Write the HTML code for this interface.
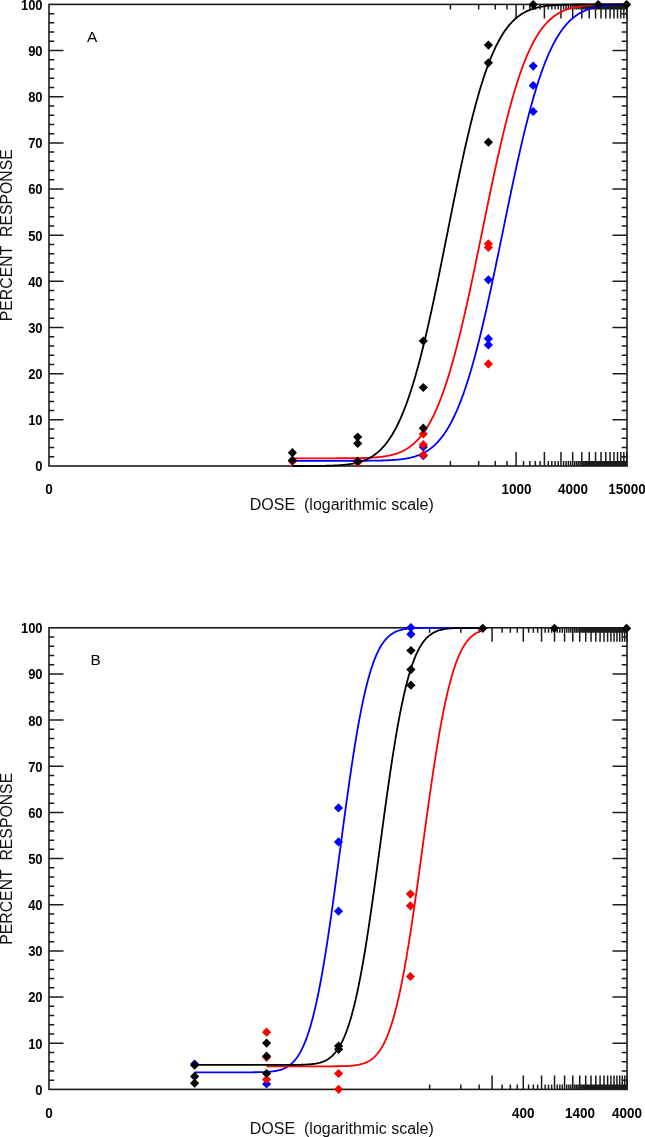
<!DOCTYPE html>
<html><head><meta charset="utf-8"><style>
html,body{margin:0;padding:0;background:#fff;}
body{width:645px;height:1137px;overflow:hidden;}
svg{display:block;}
text{font-family:'Liberation Sans',sans-serif;fill:#000;filter:grayscale(1);}
.tl{font-size:13.5px;font-weight:bold;}
.al{font-size:16px;fill:#111;}
.lt{font-size:15.4px;}
.pr{font-size:15.8px;}
.yl{font-size:13px;}
</style></head><body>
<svg width="645" height="1137" viewBox="0 0 645 1137">
<rect x="49" y="4.4" width="578" height="461.6" fill="none" stroke="#1c1c1c" stroke-width="1.6"/>
<path d="M49,456.77h5.3M627,456.77h-5.3M49,447.54h5.3M627,447.54h-5.3M49,438.30h5.3M627,438.30h-5.3M49,429.07h5.3M627,429.07h-5.3M49,419.84h14.5M627,419.84h-14.5M49,410.61h5.3M627,410.61h-5.3M49,401.38h5.3M627,401.38h-5.3M49,392.14h5.3M627,392.14h-5.3M49,382.91h5.3M627,382.91h-5.3M49,373.68h14.5M627,373.68h-14.5M49,364.45h5.3M627,364.45h-5.3M49,355.22h5.3M627,355.22h-5.3M49,345.98h5.3M627,345.98h-5.3M49,336.75h5.3M627,336.75h-5.3M49,327.52h14.5M627,327.52h-14.5M49,318.29h5.3M627,318.29h-5.3M49,309.06h5.3M627,309.06h-5.3M49,299.82h5.3M627,299.82h-5.3M49,290.59h5.3M627,290.59h-5.3M49,281.36h14.5M627,281.36h-14.5M49,272.13h5.3M627,272.13h-5.3M49,262.90h5.3M627,262.90h-5.3M49,253.66h5.3M627,253.66h-5.3M49,244.43h5.3M627,244.43h-5.3M49,235.20h14.5M627,235.20h-14.5M49,225.97h5.3M627,225.97h-5.3M49,216.74h5.3M627,216.74h-5.3M49,207.50h5.3M627,207.50h-5.3M49,198.27h5.3M627,198.27h-5.3M49,189.04h14.5M627,189.04h-14.5M49,179.81h5.3M627,179.81h-5.3M49,170.58h5.3M627,170.58h-5.3M49,161.34h5.3M627,161.34h-5.3M49,152.11h5.3M627,152.11h-5.3M49,142.88h14.5M627,142.88h-14.5M49,133.65h5.3M627,133.65h-5.3M49,124.42h5.3M627,124.42h-5.3M49,115.18h5.3M627,115.18h-5.3M49,105.95h5.3M627,105.95h-5.3M49,96.72h14.5M627,96.72h-14.5M49,87.49h5.3M627,87.49h-5.3M49,78.26h5.3M627,78.26h-5.3M49,69.02h5.3M627,69.02h-5.3M49,59.79h5.3M627,59.79h-5.3M49,50.56h14.5M627,50.56h-14.5M49,41.33h5.3M627,41.33h-5.3M49,32.10h5.3M627,32.10h-5.3M49,22.86h5.3M627,22.86h-5.3M49,13.63h5.3M627,13.63h-5.3M450.40,466v-5M450.40,4.4v5M478.69,466v-5M478.69,4.4v5M495.25,466v-5M495.25,4.4v5M506.99,466v-5M506.99,4.4v5M516.10,466v-14M516.10,4.4v14M523.54,466v-5M523.54,4.4v5M529.84,466v-5M529.84,4.4v5M535.29,466v-5M535.29,4.4v5M540.10,466v-5M540.10,4.4v5M544.40,466v-14M544.40,4.4v14M548.29,466v-5M548.29,4.4v5M551.84,466v-5M551.84,4.4v5M555.11,466v-5M555.11,4.4v5M558.13,466v-5M558.13,4.4v5M560.95,466v-14M560.95,4.4v14M563.58,466v-5M563.58,4.4v5M566.06,466v-5M566.06,4.4v5M568.39,466v-5M568.39,4.4v5M570.60,466v-5M570.60,4.4v5M572.69,466v-14M572.69,4.4v14M574.69,466v-5M574.69,4.4v5M576.58,466v-5M576.58,4.4v5M578.40,466v-5M578.40,4.4v5M580.14,466v-5M580.14,4.4v5M581.80,466v-14M581.80,4.4v14M583.40,466v-5M583.40,4.4v5M584.95,466v-5M584.95,4.4v5M586.43,466v-5M586.43,4.4v5M587.86,466v-5M587.86,4.4v5M589.25,466v-14M589.25,4.4v14M590.58,466v-5M590.58,4.4v5M591.88,466v-5M591.88,4.4v5M593.14,466v-5M593.14,4.4v5M594.36,466v-5M594.36,4.4v5M595.54,466v-14M595.54,4.4v14M596.69,466v-5M596.69,4.4v5M597.81,466v-5M597.81,4.4v5M598.90,466v-5M598.90,4.4v5M599.96,466v-5M599.96,4.4v5M600.99,466v-14M600.99,4.4v14M602.00,466v-5M602.00,4.4v5M602.98,466v-5M602.98,4.4v5M603.94,466v-5M603.94,4.4v5M604.88,466v-5M604.88,4.4v5M605.80,466v-14M605.80,4.4v14M606.70,466v-5M606.70,4.4v5M607.57,466v-5M607.57,4.4v5M608.43,466v-5M608.43,4.4v5M609.28,466v-5M609.28,4.4v5M610.10,466v-14M610.10,4.4v14M610.91,466v-5M610.91,4.4v5M611.70,466v-5M611.70,4.4v5M612.48,466v-5M612.48,4.4v5M613.24,466v-5M613.24,4.4v5M613.99,466v-14M613.99,4.4v14M614.73,466v-5M614.73,4.4v5M615.45,466v-5M615.45,4.4v5M616.16,466v-5M616.16,4.4v5M616.86,466v-5M616.86,4.4v5M617.54,466v-14M617.54,4.4v14M618.22,466v-5M618.22,4.4v5M618.88,466v-5M618.88,4.4v5M619.53,466v-5M619.53,4.4v5M620.18,466v-5M620.18,4.4v5M620.81,466v-14M620.81,4.4v14M621.43,466v-5M621.43,4.4v5M622.05,466v-5M622.05,4.4v5M622.65,466v-5M622.65,4.4v5M623.25,466v-5M623.25,4.4v5M623.84,466v-14M623.84,4.4v14M624.42,466v-5M624.42,4.4v5M624.99,466v-5M624.99,4.4v5M625.55,466v-5M625.55,4.4v5M626.10,466v-5M626.10,4.4v5M626.65,466v-14M626.65,4.4v14" stroke="#1c1c1c" stroke-width="1.5" fill="none"/>
<polyline points="292.40,458.29 293.24,458.29 294.08,458.29 294.92,458.29 295.75,458.29 296.59,458.29 297.43,458.29 298.27,458.29 299.11,458.29 299.95,458.29 300.79,458.29 301.62,458.29 302.46,458.29 303.30,458.29 304.14,458.29 304.98,458.29 305.82,458.29 306.66,458.29 307.49,458.29 308.33,458.29 309.17,458.29 310.01,458.29 310.85,458.29 311.69,458.29 312.53,458.29 313.36,458.29 314.20,458.29 315.04,458.29 315.88,458.29 316.72,458.29 317.56,458.29 318.40,458.29 319.24,458.29 320.07,458.29 320.91,458.29 321.75,458.29 322.59,458.29 323.43,458.29 324.27,458.29 325.11,458.29 325.94,458.29 326.78,458.29 327.62,458.28 328.46,458.28 329.30,458.28 330.14,458.28 330.98,458.28 331.81,458.28 332.65,458.28 333.49,458.28 334.33,458.28 335.17,458.28 336.01,458.27 336.85,458.27 337.68,458.27 338.52,458.27 339.36,458.27 340.20,458.26 341.04,458.26 341.88,458.26 342.72,458.25 343.55,458.25 344.39,458.25 345.23,458.24 346.07,458.24 346.91,458.23 347.75,458.23 348.59,458.22 349.42,458.22 350.26,458.21 351.10,458.20 351.94,458.19 352.78,458.18 353.62,458.18 354.46,458.17 355.29,458.15 356.13,458.14 356.97,458.13 357.81,458.12 358.65,458.10 359.49,458.08 360.33,458.07 361.16,458.05 362.00,458.03 362.84,458.01 363.68,457.98 364.52,457.96 365.36,457.93 366.20,457.90 367.04,457.87 367.87,457.84 368.71,457.80 369.55,457.76 370.39,457.72 371.23,457.68 372.07,457.63 372.91,457.58 373.74,457.53 374.58,457.47 375.42,457.41 376.26,457.34 377.10,457.27 377.94,457.19 378.78,457.11 379.61,457.03 380.45,456.94 381.29,456.84 382.13,456.74 382.97,456.63 383.81,456.51 384.65,456.39 385.48,456.26 386.32,456.12 387.16,455.97 388.00,455.82 388.84,455.65 389.68,455.48 390.52,455.29 391.35,455.10 392.19,454.89 393.03,454.67 393.87,454.44 394.71,454.20 395.55,453.94 396.39,453.67 397.22,453.38 398.06,453.08 398.90,452.76 399.74,452.43 400.58,452.08 401.42,451.71 402.26,451.32 403.09,450.91 403.93,450.48 404.77,450.03 405.61,449.56 406.45,449.07 407.29,448.55 408.13,448.01 408.96,447.45 409.80,446.86 410.64,446.24 411.48,445.59 412.32,444.92 413.16,444.21 414.00,443.48 414.84,442.71 415.67,441.91 416.51,441.08 417.35,440.21 418.19,439.31 419.03,438.38 419.87,437.40 420.71,436.39 421.54,435.34 422.38,434.25 423.22,433.12 424.06,431.94 424.90,430.73 425.74,429.47 426.58,428.17 427.41,426.82 428.25,425.42 429.09,423.98 429.93,422.49 430.77,420.96 431.61,419.37 432.45,417.73 433.28,416.04 434.12,414.31 434.96,412.52 435.80,410.67 436.64,408.78 437.48,406.83 438.32,404.82 439.15,402.76 439.99,400.65 440.83,398.48 441.67,396.26 442.51,393.98 443.35,391.64 444.19,389.25 445.02,386.80 445.86,384.29 446.70,381.73 447.54,379.11 448.38,376.44 449.22,373.71 450.06,370.92 450.89,368.08 451.73,365.18 452.57,362.23 453.41,359.23 454.25,356.17 455.09,353.06 455.93,349.89 456.76,346.68 457.60,343.41 458.44,340.10 459.28,336.73 460.12,333.32 460.96,329.86 461.80,326.36 462.64,322.81 463.47,319.22 464.31,315.59 465.15,311.92 465.99,308.21 466.83,304.47 467.67,300.68 468.51,296.87 469.34,293.02 470.18,289.14 471.02,285.23 471.86,281.30 472.70,277.34 473.54,273.36 474.38,269.36 475.21,265.33 476.05,261.29 476.89,257.24 477.73,253.17 478.57,249.09 479.41,245.00 480.25,240.91 481.08,236.81 481.92,232.70 482.76,228.60 483.60,224.50 484.44,220.40 485.28,216.30 486.12,212.22 486.95,208.14 487.79,204.08 488.63,200.03 489.47,195.99 490.31,191.98 491.15,187.98 491.99,184.01 492.82,180.06 493.66,176.13 494.50,172.23 495.34,168.36 496.18,164.53 497.02,160.72 497.86,156.95 498.69,153.22 499.53,149.52 500.37,145.86 501.21,142.25 502.05,138.67 502.89,135.14 503.73,131.65 504.56,128.21 505.40,124.81 506.24,121.47 507.08,118.17 507.92,114.92 508.76,111.72 509.60,108.57 510.44,105.48 511.27,102.44 512.11,99.45 512.95,96.52 513.79,93.64 514.63,90.82 515.47,88.05 516.31,85.34 517.14,82.69 517.98,80.09 518.82,77.54 519.66,75.06 520.50,72.63 521.34,70.25 522.18,67.93 523.01,65.67 523.85,63.47 524.69,61.32 525.53,59.22 526.37,57.18 527.21,55.20 528.05,53.27 528.88,51.39 529.72,49.56 530.56,47.79 531.40,46.07 532.24,44.40 533.08,42.78 533.92,41.21 534.75,39.69 535.59,38.22 536.43,36.79 537.27,35.41 538.11,34.08 538.95,32.79 539.79,31.55 540.62,30.35 541.46,29.19 542.30,28.07 543.14,26.99 543.98,25.95 544.82,24.96 545.66,23.99 546.49,23.07 547.33,22.18 548.17,21.33 549.01,20.51 549.85,19.72 550.69,18.96 551.53,18.24 552.36,17.54 553.20,16.88 554.04,16.24 554.88,15.63 555.72,15.05 556.56,14.49 557.40,13.96 558.24,13.45 559.07,12.96 559.91,12.50 560.75,12.06 561.59,11.64 562.43,11.24 563.27,10.86 564.11,10.49 564.94,10.15 565.78,9.82 566.62,9.51 567.46,9.21 568.30,8.93 569.14,8.66 569.98,8.41 570.81,8.17 571.65,7.95 572.49,7.73 573.33,7.53 574.17,7.33 575.01,7.15 575.85,6.98 576.68,6.82 577.52,6.67 578.36,6.52 579.20,6.39 580.04,6.26 580.88,6.14 581.72,6.02 582.55,5.92 583.39,5.82 584.23,5.72 585.07,5.63 585.91,5.55 586.75,5.47 587.59,5.40 588.42,5.33 589.26,5.26 590.10,5.20 590.94,5.15 591.78,5.09 592.62,5.05 593.46,5.00 594.29,4.96 595.13,4.92 595.97,4.88 596.81,4.84 597.65,4.81 598.49,4.78 599.33,4.75 600.16,4.72 601.00,4.70 601.84,4.68 602.68,4.66 603.52,4.64 604.36,4.62 605.20,4.60 606.04,4.59 606.87,4.57 607.71,4.56 608.55,4.54 609.39,4.53 610.23,4.52 611.07,4.51 611.91,4.50 612.74,4.49 613.58,4.49 614.42,4.48 615.26,4.47 616.10,4.47 616.94,4.46 617.78,4.46 618.61,4.45 619.45,4.45 620.29,4.44 621.13,4.44 621.97,4.44 622.81,4.43 623.65,4.43 624.48,4.43 625.32,4.42 626.16,4.42 627.00,4.42" fill="none" stroke="#ff0000" stroke-width="1.8" stroke-linejoin="round"/>
<polyline points="292.40,460.78 293.24,460.78 294.08,460.78 294.92,460.78 295.75,460.78 296.59,460.78 297.43,460.78 298.27,460.78 299.11,460.78 299.95,460.78 300.79,460.78 301.62,460.78 302.46,460.78 303.30,460.78 304.14,460.78 304.98,460.78 305.82,460.78 306.66,460.78 307.49,460.78 308.33,460.78 309.17,460.78 310.01,460.78 310.85,460.78 311.69,460.78 312.53,460.78 313.36,460.78 314.20,460.78 315.04,460.78 315.88,460.78 316.72,460.78 317.56,460.78 318.40,460.78 319.24,460.78 320.07,460.78 320.91,460.78 321.75,460.78 322.59,460.78 323.43,460.78 324.27,460.78 325.11,460.78 325.94,460.78 326.78,460.78 327.62,460.78 328.46,460.78 329.30,460.78 330.14,460.78 330.98,460.78 331.81,460.78 332.65,460.78 333.49,460.78 334.33,460.78 335.17,460.78 336.01,460.78 336.85,460.78 337.68,460.78 338.52,460.78 339.36,460.78 340.20,460.78 341.04,460.78 341.88,460.78 342.72,460.78 343.55,460.78 344.39,460.78 345.23,460.78 346.07,460.78 346.91,460.78 347.75,460.78 348.59,460.78 349.42,460.77 350.26,460.77 351.10,460.77 351.94,460.77 352.78,460.77 353.62,460.77 354.46,460.77 355.29,460.77 356.13,460.76 356.97,460.76 357.81,460.76 358.65,460.76 359.49,460.76 360.33,460.75 361.16,460.75 362.00,460.75 362.84,460.74 363.68,460.74 364.52,460.73 365.36,460.73 366.20,460.73 367.04,460.72 367.87,460.71 368.71,460.71 369.55,460.70 370.39,460.69 371.23,460.69 372.07,460.68 372.91,460.67 373.74,460.66 374.58,460.65 375.42,460.63 376.26,460.62 377.10,460.61 377.94,460.59 378.78,460.58 379.61,460.56 380.45,460.54 381.29,460.52 382.13,460.50 382.97,460.48 383.81,460.45 384.65,460.42 385.48,460.40 386.32,460.36 387.16,460.33 388.00,460.30 388.84,460.26 389.68,460.22 390.52,460.17 391.35,460.13 392.19,460.08 393.03,460.02 393.87,459.97 394.71,459.91 395.55,459.84 396.39,459.77 397.22,459.70 398.06,459.62 398.90,459.54 399.74,459.45 400.58,459.35 401.42,459.25 402.26,459.15 403.09,459.03 403.93,458.91 404.77,458.78 405.61,458.65 406.45,458.50 407.29,458.35 408.13,458.19 408.96,458.02 409.80,457.84 410.64,457.65 411.48,457.44 412.32,457.23 413.16,457.00 414.00,456.77 414.84,456.52 415.67,456.25 416.51,455.97 417.35,455.68 418.19,455.37 419.03,455.04 419.87,454.70 420.71,454.34 421.54,453.96 422.38,453.57 423.22,453.15 424.06,452.72 424.90,452.26 425.74,451.78 426.58,451.28 427.41,450.75 428.25,450.20 429.09,449.62 429.93,449.02 430.77,448.39 431.61,447.74 432.45,447.05 433.28,446.34 434.12,445.60 434.96,444.82 435.80,444.01 436.64,443.17 437.48,442.30 438.32,441.38 439.15,440.44 439.99,439.46 440.83,438.43 441.67,437.38 442.51,436.28 443.35,435.14 444.19,433.96 445.02,432.73 445.86,431.47 446.70,430.16 447.54,428.80 448.38,427.40 449.22,425.95 450.06,424.46 450.89,422.92 451.73,421.33 452.57,419.68 453.41,417.99 454.25,416.25 455.09,414.46 455.93,412.61 456.76,410.72 457.60,408.77 458.44,406.76 459.28,404.70 460.12,402.59 460.96,400.42 461.80,398.20 462.64,395.92 463.47,393.59 464.31,391.20 465.15,388.76 465.99,386.26 466.83,383.70 467.67,381.09 468.51,378.42 469.34,375.70 470.18,372.92 471.02,370.09 471.86,367.21 472.70,364.27 473.54,361.27 474.38,358.23 475.21,355.13 476.05,351.98 476.89,348.78 477.73,345.53 478.57,342.23 479.41,338.88 480.25,335.48 481.08,332.04 481.92,328.56 482.76,325.03 483.60,321.45 484.44,317.84 485.28,314.19 486.12,310.50 486.95,306.77 487.79,303.01 488.63,299.21 489.47,295.38 490.31,291.52 491.15,287.63 491.99,283.72 492.82,279.78 493.66,275.81 494.50,271.83 495.34,267.83 496.18,263.80 497.02,259.77 497.86,255.72 498.69,251.65 499.53,247.58 500.37,243.50 501.21,239.42 502.05,235.33 502.89,231.24 503.73,227.15 504.56,223.06 505.40,218.98 506.24,214.90 507.08,210.84 507.92,206.78 508.76,202.74 509.60,198.71 510.44,194.70 511.27,190.71 512.11,186.74 512.95,182.79 513.79,178.87 514.63,174.97 515.47,171.10 516.31,167.26 517.14,163.46 517.98,159.68 518.82,155.94 519.66,152.24 520.50,148.57 521.34,144.95 522.18,141.36 523.01,137.82 523.85,134.31 524.69,130.86 525.53,127.45 526.37,124.08 527.21,120.77 528.05,117.50 528.88,114.28 529.72,111.11 530.56,108.00 531.40,104.93 532.24,101.92 533.08,98.96 533.92,96.06 534.75,93.21 535.59,90.41 536.43,87.67 537.27,84.99 538.11,82.36 538.95,79.78 539.79,77.26 540.62,74.80 541.46,72.39 542.30,70.04 543.14,67.75 543.98,65.50 544.82,63.32 545.66,61.19 546.49,59.11 547.33,57.09 548.17,55.12 549.01,53.20 549.85,51.34 550.69,49.53 551.53,47.77 552.36,46.06 553.20,44.41 554.04,42.80 554.88,41.24 555.72,39.73 556.56,38.27 557.40,36.85 558.24,35.48 559.07,34.15 559.91,32.87 560.75,31.64 561.59,30.44 562.43,29.29 563.27,28.18 564.11,27.10 564.94,26.07 565.78,25.07 566.62,24.11 567.46,23.19 568.30,22.31 569.14,21.45 569.98,20.63 570.81,19.85 571.65,19.09 572.49,18.37 573.33,17.67 574.17,17.01 575.01,16.37 575.85,15.76 576.68,15.18 577.52,14.62 578.36,14.08 579.20,13.57 580.04,13.09 580.88,12.62 581.72,12.18 582.55,11.75 583.39,11.35 584.23,10.97 585.07,10.60 585.91,10.25 586.75,9.92 587.59,9.61 588.42,9.31 589.26,9.03 590.10,8.76 590.94,8.50 591.78,8.26 592.62,8.03 593.46,7.81 594.29,7.61 595.13,7.41 595.97,7.23 596.81,7.05 597.65,6.89 598.49,6.73 599.33,6.58 600.16,6.45 601.00,6.32 601.84,6.19 602.68,6.08 603.52,5.97 604.36,5.86 605.20,5.77 606.04,5.68 606.87,5.59 607.71,5.51 608.55,5.44 609.39,5.37 610.23,5.30 611.07,5.24 611.91,5.18 612.74,5.12 613.58,5.07 614.42,5.03 615.26,4.98 616.10,4.94 616.94,4.90 617.78,4.86 618.61,4.83 619.45,4.80 620.29,4.77 621.13,4.74 621.97,4.72 622.81,4.69 623.65,4.67 624.48,4.65 625.32,4.63 626.16,4.61 627.00,4.60" fill="none" stroke="#0000ff" stroke-width="1.8" stroke-linejoin="round"/>
<polyline points="292.40,465.99 293.24,465.99 294.08,465.99 294.92,465.99 295.75,465.99 296.59,465.99 297.43,465.99 298.27,465.99 299.11,465.99 299.95,465.99 300.79,465.98 301.62,465.98 302.46,465.98 303.30,465.98 304.14,465.98 304.98,465.97 305.82,465.97 306.66,465.97 307.49,465.97 308.33,465.96 309.17,465.96 310.01,465.96 310.85,465.95 311.69,465.95 312.53,465.94 313.36,465.94 314.20,465.93 315.04,465.92 315.88,465.92 316.72,465.91 317.56,465.90 318.40,465.89 319.24,465.88 320.07,465.87 320.91,465.86 321.75,465.85 322.59,465.84 323.43,465.82 324.27,465.81 325.11,465.79 325.94,465.77 326.78,465.75 327.62,465.73 328.46,465.71 329.30,465.69 330.14,465.66 330.98,465.63 331.81,465.61 332.65,465.57 333.49,465.54 334.33,465.50 335.17,465.46 336.01,465.42 336.85,465.38 337.68,465.33 338.52,465.28 339.36,465.22 340.20,465.16 341.04,465.10 341.88,465.03 342.72,464.96 343.55,464.88 344.39,464.80 345.23,464.71 346.07,464.62 346.91,464.52 347.75,464.41 348.59,464.30 349.42,464.18 350.26,464.05 351.10,463.92 351.94,463.77 352.78,463.62 353.62,463.46 354.46,463.29 355.29,463.11 356.13,462.92 356.97,462.71 357.81,462.50 358.65,462.27 359.49,462.03 360.33,461.78 361.16,461.51 362.00,461.23 362.84,460.93 363.68,460.62 364.52,460.29 365.36,459.94 366.20,459.58 367.04,459.19 367.87,458.79 368.71,458.37 369.55,457.92 370.39,457.46 371.23,456.97 372.07,456.45 372.91,455.92 373.74,455.35 374.58,454.76 375.42,454.15 376.26,453.50 377.10,452.83 377.94,452.13 378.78,451.39 379.61,450.63 380.45,449.83 381.29,448.99 382.13,448.13 382.97,447.22 383.81,446.28 384.65,445.31 385.48,444.29 386.32,443.24 387.16,442.14 388.00,441.00 388.84,439.82 389.68,438.60 390.52,437.33 391.35,436.02 392.19,434.66 393.03,433.25 393.87,431.80 394.71,430.29 395.55,428.74 396.39,427.14 397.22,425.48 398.06,423.77 398.90,422.01 399.74,420.20 400.58,418.33 401.42,416.41 402.26,414.43 403.09,412.40 403.93,410.31 404.77,408.17 405.61,405.96 406.45,403.70 407.29,401.39 408.13,399.01 408.96,396.58 409.80,394.08 410.64,391.53 411.48,388.93 412.32,386.26 413.16,383.53 414.00,380.75 414.84,377.91 415.67,375.01 416.51,372.06 417.35,369.05 418.19,365.98 419.03,362.86 419.87,359.68 420.71,356.45 421.54,353.16 422.38,349.83 423.22,346.44 424.06,343.00 424.90,339.51 425.74,335.98 426.58,332.39 427.41,328.76 428.25,325.09 429.09,321.37 429.93,317.62 430.77,313.82 431.61,309.98 432.45,306.11 433.28,302.20 434.12,298.26 434.96,294.29 435.80,290.28 436.64,286.25 437.48,282.20 438.32,278.12 439.15,274.01 439.99,269.89 440.83,265.75 441.67,261.59 442.51,257.42 443.35,253.24 444.19,249.05 445.02,244.85 445.86,240.65 446.70,236.45 447.54,232.24 448.38,228.03 449.22,223.83 450.06,219.64 450.89,215.45 451.73,211.27 452.57,207.11 453.41,202.96 454.25,198.82 455.09,194.71 455.93,190.62 456.76,186.54 457.60,182.50 458.44,178.48 459.28,174.49 460.12,170.53 460.96,166.60 461.80,162.71 462.64,158.85 463.47,155.03 464.31,151.24 465.15,147.50 465.99,143.81 466.83,140.15 467.67,136.54 468.51,132.98 469.34,129.46 470.18,125.99 471.02,122.57 471.86,119.20 472.70,115.89 473.54,112.63 474.38,109.42 475.21,106.26 476.05,103.16 476.89,100.12 477.73,97.13 478.57,94.20 479.41,91.32 480.25,88.51 481.08,85.75 481.92,83.05 482.76,80.40 483.60,77.82 484.44,75.29 485.28,72.82 486.12,70.41 486.95,68.06 487.79,65.77 488.63,63.53 489.47,61.35 490.31,59.23 491.15,57.16 491.99,55.15 492.82,53.20 493.66,51.30 494.50,49.45 495.34,47.66 496.18,45.92 497.02,44.24 497.86,42.60 498.69,41.02 499.53,39.49 500.37,38.01 501.21,36.57 502.05,35.18 502.89,33.84 503.73,32.55 504.56,31.30 505.40,30.09 506.24,28.93 507.08,27.81 507.92,26.73 508.76,25.69 509.60,24.69 510.44,23.73 511.27,22.80 512.11,21.92 512.95,21.06 513.79,20.24 514.63,19.46 515.47,18.71 516.31,17.98 517.14,17.29 517.98,16.63 518.82,16.00 519.66,15.39 520.50,14.81 521.34,14.26 522.18,13.73 523.01,13.23 523.85,12.75 524.69,12.29 525.53,11.86 526.37,11.44 527.21,11.05 528.05,10.67 528.88,10.31 529.72,9.97 530.56,9.65 531.40,9.34 532.24,9.05 533.08,8.78 533.92,8.52 534.75,8.27 535.59,8.03 536.43,7.81 537.27,7.60 538.11,7.41 538.95,7.22 539.79,7.04 540.62,6.87 541.46,6.72 542.30,6.57 543.14,6.43 543.98,6.30 544.82,6.17 545.66,6.06 546.49,5.95 547.33,5.84 548.17,5.74 549.01,5.65 549.85,5.57 550.69,5.49 551.53,5.41 552.36,5.34 553.20,5.28 554.04,5.22 554.88,5.16 555.72,5.10 556.56,5.05 557.40,5.01 558.24,4.96 559.07,4.92 559.91,4.88 560.75,4.85 561.59,4.81 562.43,4.78 563.27,4.75 564.11,4.73 564.94,4.70 565.78,4.68 566.62,4.66 567.46,4.64 568.30,4.62 569.14,4.60 569.98,4.59 570.81,4.57 571.65,4.56 572.49,4.54 573.33,4.53 574.17,4.52 575.01,4.51 575.85,4.50 576.68,4.49 577.52,4.49 578.36,4.48 579.20,4.47 580.04,4.47 580.88,4.46 581.72,4.46 582.55,4.45 583.39,4.45 584.23,4.44 585.07,4.44 585.91,4.44 586.75,4.43 587.59,4.43 588.42,4.43 589.26,4.42 590.10,4.42 590.94,4.42 591.78,4.42 592.62,4.42 593.46,4.42 594.29,4.41 595.13,4.41 595.97,4.41 596.81,4.41 597.65,4.41 598.49,4.41 599.33,4.41 600.16,4.41 601.00,4.41 601.84,4.41 602.68,4.41 603.52,4.40 604.36,4.40 605.20,4.40 606.04,4.40 606.87,4.40 607.71,4.40 608.55,4.40 609.39,4.40 610.23,4.40 611.07,4.40 611.91,4.40 612.74,4.40 613.58,4.40 614.42,4.40 615.26,4.40 616.10,4.40 616.94,4.40 617.78,4.40 618.61,4.40 619.45,4.40 620.29,4.40 621.13,4.40 621.97,4.40 622.81,4.40 623.65,4.40 624.48,4.40 625.32,4.40 626.16,4.40 627.00,4.40" fill="none" stroke="#000000" stroke-width="1.8" stroke-linejoin="round"/>
<path d="M292.40,456.80l4.6,4.6l-4.6,4.6l-4.6,-4.6z" fill="#ff0000"/>
<path d="M292.40,448.10l4.6,4.6l-4.6,4.6l-4.6,-4.6z" fill="#000000"/>
<path d="M292.40,455.60l4.6,4.6l-4.6,4.6l-4.6,-4.6z" fill="#000000"/>
<path d="M357.70,457.90l4.6,4.6l-4.6,4.6l-4.6,-4.6z" fill="#ff0000"/>
<path d="M357.70,432.40l4.6,4.6l-4.6,4.6l-4.6,-4.6z" fill="#000000"/>
<path d="M357.70,438.80l4.6,4.6l-4.6,4.6l-4.6,-4.6z" fill="#000000"/>
<path d="M357.70,456.60l4.6,4.6l-4.6,4.6l-4.6,-4.6z" fill="#000000"/>
<path d="M423.30,451.10l4.6,4.6l-4.6,4.6l-4.6,-4.6z" fill="#0000ff"/>
<path d="M423.30,442.40l4.6,4.6l-4.6,4.6l-4.6,-4.6z" fill="#0000ff"/>
<path d="M423.30,450.40l4.6,4.6l-4.6,4.6l-4.6,-4.6z" fill="#ff0000"/>
<path d="M423.30,440.10l4.6,4.6l-4.6,4.6l-4.6,-4.6z" fill="#ff0000"/>
<path d="M423.30,429.30l4.6,4.6l-4.6,4.6l-4.6,-4.6z" fill="#ff0000"/>
<path d="M423.30,423.60l4.6,4.6l-4.6,4.6l-4.6,-4.6z" fill="#000000"/>
<path d="M423.30,382.90l4.6,4.6l-4.6,4.6l-4.6,-4.6z" fill="#000000"/>
<path d="M423.30,336.40l4.6,4.6l-4.6,4.6l-4.6,-4.6z" fill="#000000"/>
<path d="M488.40,275.20l4.6,4.6l-4.6,4.6l-4.6,-4.6z" fill="#0000ff"/>
<path d="M488.40,334.10l4.6,4.6l-4.6,4.6l-4.6,-4.6z" fill="#0000ff"/>
<path d="M488.40,340.30l4.6,4.6l-4.6,4.6l-4.6,-4.6z" fill="#0000ff"/>
<path d="M488.40,359.30l4.6,4.6l-4.6,4.6l-4.6,-4.6z" fill="#ff0000"/>
<path d="M488.40,239.20l4.6,4.6l-4.6,4.6l-4.6,-4.6z" fill="#ff0000"/>
<path d="M488.40,242.90l4.6,4.6l-4.6,4.6l-4.6,-4.6z" fill="#ff0000"/>
<path d="M488.40,137.60l4.6,4.6l-4.6,4.6l-4.6,-4.6z" fill="#000000"/>
<path d="M488.40,58.20l4.6,4.6l-4.6,4.6l-4.6,-4.6z" fill="#000000"/>
<path d="M488.40,40.50l4.6,4.6l-4.6,4.6l-4.6,-4.6z" fill="#000000"/>
<path d="M533.20,61.50l4.6,4.6l-4.6,4.6l-4.6,-4.6z" fill="#0000ff"/>
<path d="M533.20,80.90l4.6,4.6l-4.6,4.6l-4.6,-4.6z" fill="#0000ff"/>
<path d="M533.20,106.90l4.6,4.6l-4.6,4.6l-4.6,-4.6z" fill="#0000ff"/>
<path d="M533.20,0.00l4.6,4.6l-4.6,4.6l-4.6,-4.6z" fill="#000000"/>
<path d="M598.20,0.00l4.6,4.6l-4.6,4.6l-4.6,-4.6z" fill="#000000"/>
<path d="M626.60,0.00l4.6,4.6l-4.6,4.6l-4.6,-4.6z" fill="#000000"/>
<text transform="translate(42.6,471.40) scale(1,1.1)" text-anchor="end" class="tl yl">0</text>
<text transform="translate(42.6,425.24) scale(1,1.1)" text-anchor="end" class="tl yl">10</text>
<text transform="translate(42.6,379.08) scale(1,1.1)" text-anchor="end" class="tl yl">20</text>
<text transform="translate(42.6,332.92) scale(1,1.1)" text-anchor="end" class="tl yl">30</text>
<text transform="translate(42.6,286.76) scale(1,1.1)" text-anchor="end" class="tl yl">40</text>
<text transform="translate(42.6,240.60) scale(1,1.1)" text-anchor="end" class="tl yl">50</text>
<text transform="translate(42.6,194.44) scale(1,1.1)" text-anchor="end" class="tl yl">60</text>
<text transform="translate(42.6,148.28) scale(1,1.1)" text-anchor="end" class="tl yl">70</text>
<text transform="translate(42.6,102.12) scale(1,1.1)" text-anchor="end" class="tl yl">80</text>
<text transform="translate(42.6,55.96) scale(1,1.1)" text-anchor="end" class="tl yl">90</text>
<text transform="translate(42.6,9.80) scale(1,1.1)" text-anchor="end" class="tl yl">100</text>
<text transform="translate(49.00,494.20) scale(1,1.1)" text-anchor="middle" class="tl">0</text>
<text transform="translate(516.40,494.20) scale(1,1.1)" text-anchor="middle" class="tl">1000</text>
<text transform="translate(573.00,494.20) scale(1,1.1)" text-anchor="middle" class="tl">4000</text>
<text transform="translate(627.00,494.20) scale(1,1.1)" text-anchor="middle" class="tl">15000</text>
<text x="249.8" y="510.30" class="al" xml:space="preserve">DOSE  (logarithmic scale)</text>
<text transform="translate(12.4,321.20) rotate(-90)" class="al pr">PERCENT</text>
<text transform="translate(12.4,237.00) rotate(-90)" class="al pr">RESPONSE</text>
<text x="86.9" y="42.2" class="lt">A</text>
<rect x="49" y="627.8" width="578" height="461.60000000000014" fill="none" stroke="#1c1c1c" stroke-width="1.6"/>
<path d="M49,1080.17h5.3M627,1080.17h-5.3M49,1070.94h5.3M627,1070.94h-5.3M49,1061.70h5.3M627,1061.70h-5.3M49,1052.47h5.3M627,1052.47h-5.3M49,1043.24h14.5M627,1043.24h-14.5M49,1034.01h5.3M627,1034.01h-5.3M49,1024.78h5.3M627,1024.78h-5.3M49,1015.54h5.3M627,1015.54h-5.3M49,1006.31h5.3M627,1006.31h-5.3M49,997.08h14.5M627,997.08h-14.5M49,987.85h5.3M627,987.85h-5.3M49,978.62h5.3M627,978.62h-5.3M49,969.38h5.3M627,969.38h-5.3M49,960.15h5.3M627,960.15h-5.3M49,950.92h14.5M627,950.92h-14.5M49,941.69h5.3M627,941.69h-5.3M49,932.46h5.3M627,932.46h-5.3M49,923.22h5.3M627,923.22h-5.3M49,913.99h5.3M627,913.99h-5.3M49,904.76h14.5M627,904.76h-14.5M49,895.53h5.3M627,895.53h-5.3M49,886.30h5.3M627,886.30h-5.3M49,877.06h5.3M627,877.06h-5.3M49,867.83h5.3M627,867.83h-5.3M49,858.60h14.5M627,858.60h-14.5M49,849.37h5.3M627,849.37h-5.3M49,840.14h5.3M627,840.14h-5.3M49,830.90h5.3M627,830.90h-5.3M49,821.67h5.3M627,821.67h-5.3M49,812.44h14.5M627,812.44h-14.5M49,803.21h5.3M627,803.21h-5.3M49,793.98h5.3M627,793.98h-5.3M49,784.74h5.3M627,784.74h-5.3M49,775.51h5.3M627,775.51h-5.3M49,766.28h14.5M627,766.28h-14.5M49,757.05h5.3M627,757.05h-5.3M49,747.82h5.3M627,747.82h-5.3M49,738.58h5.3M627,738.58h-5.3M49,729.35h5.3M627,729.35h-5.3M49,720.12h14.5M627,720.12h-14.5M49,710.89h5.3M627,710.89h-5.3M49,701.66h5.3M627,701.66h-5.3M49,692.42h5.3M627,692.42h-5.3M49,683.19h5.3M627,683.19h-5.3M49,673.96h14.5M627,673.96h-14.5M49,664.73h5.3M627,664.73h-5.3M49,655.50h5.3M627,655.50h-5.3M49,646.26h5.3M627,646.26h-5.3M49,637.03h5.3M627,637.03h-5.3M429.65,1089.4v-5M429.65,627.8v5M460.87,1089.4v-5M460.87,627.8v5M479.13,1089.4v-5M479.13,627.8v5M492.08,1089.4v-14M492.08,627.8v14M502.13,1089.4v-5M502.13,627.8v5M510.34,1089.4v-5M510.34,627.8v5M517.29,1089.4v-5M517.29,627.8v5M523.30,1089.4v-14M523.30,627.8v14M528.60,1089.4v-5M528.60,627.8v5M533.35,1089.4v-5M533.35,627.8v5M537.64,1089.4v-5M537.64,627.8v5M541.56,1089.4v-14M541.56,627.8v14M545.17,1089.4v-5M545.17,627.8v5M548.50,1089.4v-5M548.50,627.8v5M551.61,1089.4v-5M551.61,627.8v5M554.52,1089.4v-14M554.52,627.8v14M557.25,1089.4v-5M557.25,627.8v5M559.82,1089.4v-5M559.82,627.8v5M562.26,1089.4v-5M562.26,627.8v5M564.57,1089.4v-14M564.57,627.8v14M566.76,1089.4v-5M566.76,627.8v5M568.86,1089.4v-5M568.86,627.8v5M570.86,1089.4v-5M570.86,627.8v5M572.78,1089.4v-14M572.78,627.8v14M574.62,1089.4v-5M574.62,627.8v5M576.38,1089.4v-5M576.38,627.8v5M578.08,1089.4v-5M578.08,627.8v5M579.72,1089.4v-14M579.72,627.8v14M581.30,1089.4v-5M581.30,627.8v5M582.83,1089.4v-5M582.83,627.8v5M584.30,1089.4v-5M584.30,627.8v5M585.73,1089.4v-14M585.73,627.8v14M587.12,1089.4v-5M587.12,627.8v5M588.46,1089.4v-5M588.46,627.8v5M589.77,1089.4v-5M589.77,627.8v5M591.04,1089.4v-14M591.04,627.8v14M592.27,1089.4v-5M592.27,627.8v5M593.47,1089.4v-5M593.47,627.8v5M594.64,1089.4v-5M594.64,627.8v5M595.78,1089.4v-14M595.78,627.8v14M596.90,1089.4v-5M596.90,627.8v5M597.98,1089.4v-5M597.98,627.8v5M599.04,1089.4v-5M599.04,627.8v5M600.08,1089.4v-14M600.08,627.8v14M601.09,1089.4v-5M601.09,627.8v5M602.08,1089.4v-5M602.08,627.8v5M603.05,1089.4v-5M603.05,627.8v5M603.99,1089.4v-14M603.99,627.8v14M604.92,1089.4v-5M604.92,627.8v5M605.83,1089.4v-5M605.83,627.8v5M606.72,1089.4v-5M606.72,627.8v5M607.60,1089.4v-14M607.60,627.8v14M608.46,1089.4v-5M608.46,627.8v5M609.30,1089.4v-5M609.30,627.8v5M610.13,1089.4v-5M610.13,627.8v5M610.94,1089.4v-14M610.94,627.8v14M611.73,1089.4v-5M611.73,627.8v5M612.52,1089.4v-5M612.52,627.8v5M613.29,1089.4v-5M613.29,627.8v5M614.04,1089.4v-14M614.04,627.8v14M614.79,1089.4v-5M614.79,627.8v5M615.52,1089.4v-5M615.52,627.8v5M616.24,1089.4v-5M616.24,627.8v5M616.95,1089.4v-14M616.95,627.8v14M617.65,1089.4v-5M617.65,627.8v5M618.34,1089.4v-5M618.34,627.8v5M619.01,1089.4v-5M619.01,627.8v5M619.68,1089.4v-14M619.68,627.8v14M620.34,1089.4v-5M620.34,627.8v5M620.99,1089.4v-5M620.99,627.8v5M621.63,1089.4v-5M621.63,627.8v5M622.25,1089.4v-14M622.25,627.8v14M622.88,1089.4v-5M622.88,627.8v5M623.49,1089.4v-5M623.49,627.8v5M624.09,1089.4v-5M624.09,627.8v5M624.69,1089.4v-14M624.69,627.8v14M625.28,1089.4v-5M625.28,627.8v5M625.86,1089.4v-5M625.86,627.8v5M626.43,1089.4v-5M626.43,627.8v5M627.00,1089.4v-14M627.00,627.8v14" stroke="#1c1c1c" stroke-width="1.5" fill="none"/>
<polyline points="194.60,1072.32 195.32,1072.32 196.04,1072.32 196.77,1072.32 197.49,1072.32 198.21,1072.32 198.93,1072.32 199.66,1072.32 200.38,1072.32 201.10,1072.32 201.82,1072.32 202.55,1072.32 203.27,1072.32 203.99,1072.32 204.71,1072.32 205.43,1072.32 206.16,1072.32 206.88,1072.32 207.60,1072.32 208.32,1072.32 209.05,1072.32 209.77,1072.32 210.49,1072.32 211.21,1072.32 211.94,1072.32 212.66,1072.32 213.38,1072.32 214.10,1072.32 214.82,1072.32 215.55,1072.32 216.27,1072.32 216.99,1072.32 217.71,1072.32 218.44,1072.32 219.16,1072.32 219.88,1072.32 220.60,1072.32 221.33,1072.32 222.05,1072.32 222.77,1072.32 223.49,1072.32 224.21,1072.32 224.94,1072.32 225.66,1072.32 226.38,1072.32 227.10,1072.32 227.83,1072.32 228.55,1072.32 229.27,1072.32 229.99,1072.32 230.72,1072.32 231.44,1072.32 232.16,1072.32 232.88,1072.32 233.60,1072.32 234.33,1072.32 235.05,1072.32 235.77,1072.32 236.49,1072.32 237.22,1072.32 237.94,1072.32 238.66,1072.32 239.38,1072.32 240.11,1072.32 240.83,1072.32 241.55,1072.31 242.27,1072.31 242.99,1072.31 243.72,1072.31 244.44,1072.31 245.16,1072.31 245.88,1072.31 246.61,1072.31 247.33,1072.30 248.05,1072.30 248.77,1072.30 249.50,1072.29 250.22,1072.29 250.94,1072.29 251.66,1072.28 252.38,1072.28 253.11,1072.27 253.83,1072.27 254.55,1072.26 255.27,1072.25 256.00,1072.24 256.72,1072.23 257.44,1072.22 258.16,1072.21 258.89,1072.20 259.61,1072.18 260.33,1072.17 261.05,1072.15 261.77,1072.13 262.50,1072.11 263.22,1072.08 263.94,1072.05 264.66,1072.02 265.39,1071.99 266.11,1071.95 266.83,1071.91 267.55,1071.87 268.28,1071.82 269.00,1071.77 269.72,1071.71 270.44,1071.64 271.16,1071.57 271.89,1071.50 272.61,1071.41 273.33,1071.32 274.05,1071.22 274.78,1071.11 275.50,1070.99 276.22,1070.86 276.94,1070.71 277.67,1070.56 278.39,1070.39 279.11,1070.21 279.83,1070.02 280.55,1069.80 281.28,1069.57 282.00,1069.33 282.72,1069.06 283.44,1068.77 284.17,1068.46 284.89,1068.13 285.61,1067.77 286.33,1067.38 287.06,1066.97 287.78,1066.53 288.50,1066.05 289.22,1065.55 289.94,1065.00 290.67,1064.42 291.39,1063.81 292.11,1063.15 292.83,1062.45 293.56,1061.70 294.28,1060.91 295.00,1060.07 295.72,1059.18 296.45,1058.23 297.17,1057.23 297.89,1056.17 298.61,1055.05 299.33,1053.87 300.06,1052.62 300.78,1051.31 301.50,1049.93 302.22,1048.47 302.95,1046.95 303.67,1045.34 304.39,1043.66 305.11,1041.90 305.84,1040.06 306.56,1038.13 307.28,1036.11 308.00,1034.01 308.72,1031.81 309.45,1029.53 310.17,1027.15 310.89,1024.68 311.61,1022.11 312.34,1019.44 313.06,1016.67 313.78,1013.81 314.50,1010.84 315.23,1007.78 315.95,1004.61 316.67,1001.34 317.39,997.97 318.11,994.49 318.84,990.92 319.56,987.25 320.28,983.47 321.00,979.60 321.73,975.63 322.45,971.56 323.17,967.40 323.89,963.15 324.62,958.80 325.34,954.36 326.06,949.84 326.78,945.24 327.50,940.55 328.23,935.79 328.95,930.95 329.67,926.05 330.39,921.07 331.12,916.03 331.84,910.93 332.56,905.78 333.28,900.58 334.01,895.33 334.73,890.03 335.45,884.70 336.17,879.34 336.89,873.95 337.62,868.54 338.34,863.11 339.06,857.67 339.78,852.22 340.51,846.77 341.23,841.32 341.95,835.89 342.67,830.46 343.39,825.05 344.12,819.67 344.84,814.31 345.56,808.99 346.28,803.71 347.01,798.47 347.73,793.27 348.45,788.13 349.17,783.04 349.90,778.02 350.62,773.06 351.34,768.16 352.06,763.34 352.78,758.59 353.51,753.92 354.23,749.34 354.95,744.83 355.67,740.42 356.40,736.09 357.12,731.85 357.84,727.71 358.56,723.66 359.29,719.71 360.01,715.86 360.73,712.11 361.45,708.45 362.17,704.90 362.90,701.45 363.62,698.10 364.34,694.85 365.06,691.70 365.79,688.66 366.51,685.71 367.23,682.87 367.95,680.12 368.68,677.48 369.40,674.93 370.12,672.47 370.84,670.11 371.56,667.85 372.29,665.67 373.01,663.59 373.73,661.59 374.45,659.68 375.18,657.85 375.90,656.11 376.62,654.44 377.34,652.85 378.07,651.34 378.79,649.90 379.51,648.53 380.23,647.23 380.95,646.00 381.68,644.83 382.40,643.73 383.12,642.68 383.84,641.69 384.57,640.76 385.29,639.88 386.01,639.04 386.73,638.26 387.46,637.53 388.18,636.83 388.90,636.18 389.62,635.57 390.34,635.00 391.07,634.47 391.79,633.97 392.51,633.50 393.23,633.06 393.96,632.66 394.68,632.28 395.40,631.92 396.12,631.59 396.85,631.29 397.57,631.00 398.29,630.74 399.01,630.50 399.73,630.27 400.46,630.06 401.18,629.87 401.90,629.69 402.62,629.53 403.35,629.38 404.07,629.24 404.79,629.11 405.51,628.99 406.24,628.88 406.96,628.78 407.68,628.69 408.40,628.61 409.12,628.53 409.85,628.46 410.57,628.40 411.29,628.34 412.01,628.29 412.74,628.24 413.46,628.20 414.18,628.16 414.90,628.12 415.63,628.09 416.35,628.06 417.07,628.03 417.79,628.01 418.51,627.99 419.24,627.97 419.96,627.95 420.68,627.93 421.40,627.92 422.13,627.91 422.85,627.90 423.57,627.88 424.29,627.88 425.02,627.87 425.74,627.86 426.46,627.85 427.18,627.85 427.90,627.84 428.63,627.84 429.35,627.83 430.07,627.83 430.79,627.83 431.52,627.82 432.24,627.82 432.96,627.82 433.68,627.82 434.41,627.81 435.13,627.81 435.85,627.81 436.57,627.81 437.29,627.81 438.02,627.81 438.74,627.81 439.46,627.81 440.18,627.80 440.91,627.80 441.63,627.80 442.35,627.80 443.07,627.80 443.80,627.80 444.52,627.80 445.24,627.80 445.96,627.80 446.68,627.80 447.41,627.80 448.13,627.80 448.85,627.80 449.57,627.80 450.30,627.80 451.02,627.80 451.74,627.80 452.46,627.80 453.19,627.80 453.91,627.80 454.63,627.80 455.35,627.80 456.07,627.80 456.80,627.80 457.52,627.80 458.24,627.80 458.96,627.80 459.69,627.80 460.41,627.80 461.13,627.80 461.85,627.80 462.58,627.80 463.30,627.80 464.02,627.80 464.74,627.80 465.46,627.80 466.19,627.80 466.91,627.80 467.63,627.80 468.35,627.80 469.08,627.80 469.80,627.80 470.52,627.80 471.24,627.80 471.97,627.80 472.69,627.80 473.41,627.80 474.13,627.80 474.85,627.80 475.58,627.80 476.30,627.80 477.02,627.80 477.74,627.80 478.47,627.80 479.19,627.80 479.91,627.80 480.63,627.80 481.36,627.80 482.08,627.80 482.80,627.80" fill="none" stroke="#0000ff" stroke-width="1.8" stroke-linejoin="round"/>
<polyline points="266.60,1066.32 267.14,1066.32 267.68,1066.32 268.23,1066.32 268.77,1066.32 269.31,1066.32 269.85,1066.32 270.39,1066.32 270.93,1066.32 271.48,1066.32 272.02,1066.32 272.56,1066.32 273.10,1066.32 273.64,1066.32 274.19,1066.32 274.73,1066.32 275.27,1066.32 275.81,1066.32 276.35,1066.32 276.90,1066.32 277.44,1066.32 277.98,1066.32 278.52,1066.32 279.06,1066.32 279.60,1066.32 280.15,1066.32 280.69,1066.32 281.23,1066.32 281.77,1066.32 282.31,1066.32 282.86,1066.32 283.40,1066.32 283.94,1066.32 284.48,1066.32 285.02,1066.32 285.56,1066.32 286.11,1066.32 286.65,1066.32 287.19,1066.32 287.73,1066.32 288.27,1066.32 288.82,1066.32 289.36,1066.32 289.90,1066.32 290.44,1066.32 290.98,1066.32 291.53,1066.32 292.07,1066.32 292.61,1066.32 293.15,1066.32 293.69,1066.32 294.23,1066.32 294.78,1066.32 295.32,1066.32 295.86,1066.32 296.40,1066.32 296.94,1066.32 297.49,1066.32 298.03,1066.32 298.57,1066.32 299.11,1066.32 299.65,1066.32 300.19,1066.32 300.74,1066.32 301.28,1066.32 301.82,1066.32 302.36,1066.32 302.90,1066.32 303.45,1066.32 303.99,1066.32 304.53,1066.32 305.07,1066.32 305.61,1066.32 306.16,1066.32 306.70,1066.32 307.24,1066.32 307.78,1066.32 308.32,1066.32 308.86,1066.32 309.41,1066.32 309.95,1066.32 310.49,1066.32 311.03,1066.32 311.57,1066.32 312.12,1066.32 312.66,1066.32 313.20,1066.32 313.74,1066.32 314.28,1066.32 314.83,1066.32 315.37,1066.32 315.91,1066.32 316.45,1066.32 316.99,1066.32 317.53,1066.32 318.08,1066.32 318.62,1066.32 319.16,1066.32 319.70,1066.32 320.24,1066.32 320.79,1066.32 321.33,1066.32 321.87,1066.31 322.41,1066.31 322.95,1066.31 323.49,1066.31 324.04,1066.31 324.58,1066.31 325.12,1066.31 325.66,1066.31 326.20,1066.31 326.75,1066.31 327.29,1066.31 327.83,1066.31 328.37,1066.30 328.91,1066.30 329.46,1066.30 330.00,1066.30 330.54,1066.30 331.08,1066.29 331.62,1066.29 332.16,1066.29 332.71,1066.29 333.25,1066.28 333.79,1066.28 334.33,1066.27 334.87,1066.27 335.42,1066.27 335.96,1066.26 336.50,1066.25 337.04,1066.25 337.58,1066.24 338.12,1066.24 338.67,1066.23 339.21,1066.22 339.75,1066.21 340.29,1066.20 340.83,1066.19 341.38,1066.18 341.92,1066.17 342.46,1066.15 343.00,1066.14 343.54,1066.12 344.09,1066.11 344.63,1066.09 345.17,1066.07 345.71,1066.05 346.25,1066.03 346.79,1066.00 347.34,1065.98 347.88,1065.95 348.42,1065.92 348.96,1065.89 349.50,1065.85 350.05,1065.82 350.59,1065.78 351.13,1065.73 351.67,1065.69 352.21,1065.64 352.75,1065.59 353.30,1065.53 353.84,1065.47 354.38,1065.41 354.92,1065.34 355.46,1065.27 356.01,1065.19 356.55,1065.11 357.09,1065.02 357.63,1064.93 358.17,1064.83 358.72,1064.73 359.26,1064.61 359.80,1064.50 360.34,1064.37 360.88,1064.23 361.42,1064.09 361.97,1063.94 362.51,1063.78 363.05,1063.61 363.59,1063.43 364.13,1063.24 364.68,1063.04 365.22,1062.83 365.76,1062.61 366.30,1062.37 366.84,1062.12 367.38,1061.86 367.93,1061.58 368.47,1061.29 369.01,1060.98 369.55,1060.66 370.09,1060.32 370.64,1059.96 371.18,1059.58 371.72,1059.19 372.26,1058.77 372.80,1058.34 373.35,1057.88 373.89,1057.40 374.43,1056.90 374.97,1056.37 375.51,1055.82 376.05,1055.25 376.60,1054.65 377.14,1054.02 377.68,1053.36 378.22,1052.67 378.76,1051.96 379.31,1051.21 379.85,1050.44 380.39,1049.63 380.93,1048.78 381.47,1047.91 382.02,1046.99 382.56,1046.04 383.10,1045.06 383.64,1044.03 384.18,1042.97 384.72,1041.87 385.27,1040.73 385.81,1039.54 386.35,1038.31 386.89,1037.04 387.43,1035.73 387.98,1034.37 388.52,1032.96 389.06,1031.51 389.60,1030.01 390.14,1028.47 390.68,1026.87 391.23,1025.22 391.77,1023.53 392.31,1021.78 392.85,1019.98 393.39,1018.13 393.94,1016.23 394.48,1014.28 395.02,1012.27 395.56,1010.21 396.10,1008.09 396.65,1005.92 397.19,1003.69 397.73,1001.41 398.27,999.08 398.81,996.69 399.35,994.25 399.90,991.75 400.44,989.19 400.98,986.58 401.52,983.92 402.06,981.20 402.61,978.43 403.15,975.60 403.69,972.73 404.23,969.79 404.77,966.81 405.31,963.78 405.86,960.69 406.40,957.56 406.94,954.37 407.48,951.14 408.02,947.86 408.57,944.54 409.11,941.17 409.65,937.76 410.19,934.30 410.73,930.80 411.28,927.27 411.82,923.69 412.36,920.08 412.90,916.43 413.44,912.75 413.98,909.03 414.53,905.29 415.07,901.51 415.61,897.71 416.15,893.88 416.69,890.03 417.24,886.16 417.78,882.27 418.32,878.36 418.86,874.43 419.40,870.49 419.94,866.54 420.49,862.57 421.03,858.60 421.57,854.63 422.11,850.64 422.65,846.66 423.20,842.68 423.74,838.70 424.28,834.72 424.82,830.75 425.36,826.79 425.91,822.84 426.45,818.90 426.99,814.98 427.53,811.07 428.07,807.18 428.61,803.32 429.16,799.47 429.70,795.65 430.24,791.85 430.78,788.08 431.32,784.34 431.87,780.63 432.41,776.96 432.95,773.32 433.49,769.71 434.03,766.14 434.57,762.61 435.12,759.13 435.66,755.68 436.20,752.27 436.74,748.91 437.28,745.60 437.83,742.33 438.37,739.11 438.91,735.93 439.45,732.81 439.99,729.73 440.54,726.71 441.08,723.74 441.62,720.81 442.16,717.95 442.70,715.13 443.24,712.37 443.79,709.66 444.33,707.01 444.87,704.41 445.41,701.87 445.95,699.38 446.50,696.95 447.04,694.57 447.58,692.25 448.12,689.98 448.66,687.76 449.21,685.60 449.75,683.50 450.29,681.45 450.83,679.45 451.37,677.50 451.91,675.61 452.46,673.77 453.00,671.99 453.54,670.25 454.08,668.56 454.62,666.93 455.17,665.34 455.71,663.80 456.25,662.31 456.79,660.87 457.33,659.48 457.87,658.12 458.42,656.82 458.96,655.56 459.50,654.34 460.04,653.16 460.58,652.03 461.13,650.93 461.67,649.88 462.21,648.86 462.75,647.88 463.29,646.94 463.84,646.04 464.38,645.17 464.92,644.33 465.46,643.53 466.00,642.76 466.54,642.02 467.09,641.31 467.63,640.63 468.17,639.98 468.71,639.35 469.25,638.76 469.80,638.19 470.34,637.64 470.88,637.12 471.42,636.62 471.96,636.15 472.50,635.70 473.05,635.26 473.59,634.85 474.13,634.46 474.67,634.09 475.21,633.73 475.76,633.40 476.30,633.07 476.84,632.77 477.38,632.48 477.92,632.21 478.47,631.95 479.01,631.70 479.55,631.47 480.09,631.24 480.63,631.04 481.17,630.84 481.72,630.65 482.26,630.47 482.80,630.31" fill="none" stroke="#ff0000" stroke-width="1.8" stroke-linejoin="round"/>
<polyline points="194.60,1064.94 195.32,1064.94 196.04,1064.94 196.77,1064.94 197.49,1064.94 198.21,1064.94 198.93,1064.94 199.66,1064.94 200.38,1064.94 201.10,1064.94 201.82,1064.94 202.55,1064.94 203.27,1064.94 203.99,1064.94 204.71,1064.94 205.43,1064.94 206.16,1064.94 206.88,1064.94 207.60,1064.94 208.32,1064.94 209.05,1064.94 209.77,1064.94 210.49,1064.94 211.21,1064.94 211.94,1064.94 212.66,1064.94 213.38,1064.94 214.10,1064.94 214.82,1064.94 215.55,1064.94 216.27,1064.94 216.99,1064.94 217.71,1064.94 218.44,1064.94 219.16,1064.94 219.88,1064.94 220.60,1064.94 221.33,1064.94 222.05,1064.94 222.77,1064.94 223.49,1064.94 224.21,1064.94 224.94,1064.94 225.66,1064.94 226.38,1064.94 227.10,1064.94 227.83,1064.94 228.55,1064.94 229.27,1064.94 229.99,1064.94 230.72,1064.94 231.44,1064.94 232.16,1064.94 232.88,1064.94 233.60,1064.94 234.33,1064.94 235.05,1064.94 235.77,1064.94 236.49,1064.94 237.22,1064.94 237.94,1064.94 238.66,1064.94 239.38,1064.94 240.11,1064.94 240.83,1064.94 241.55,1064.94 242.27,1064.94 242.99,1064.94 243.72,1064.94 244.44,1064.94 245.16,1064.94 245.88,1064.94 246.61,1064.94 247.33,1064.94 248.05,1064.94 248.77,1064.94 249.50,1064.94 250.22,1064.94 250.94,1064.94 251.66,1064.94 252.38,1064.94 253.11,1064.94 253.83,1064.94 254.55,1064.94 255.27,1064.94 256.00,1064.94 256.72,1064.94 257.44,1064.94 258.16,1064.94 258.89,1064.94 259.61,1064.94 260.33,1064.94 261.05,1064.94 261.77,1064.94 262.50,1064.94 263.22,1064.94 263.94,1064.94 264.66,1064.94 265.39,1064.93 266.11,1064.93 266.83,1064.93 267.55,1064.93 268.28,1064.93 269.00,1064.93 269.72,1064.93 270.44,1064.93 271.16,1064.93 271.89,1064.93 272.61,1064.93 273.33,1064.93 274.05,1064.93 274.78,1064.93 275.50,1064.93 276.22,1064.93 276.94,1064.93 277.67,1064.93 278.39,1064.93 279.11,1064.93 279.83,1064.93 280.55,1064.93 281.28,1064.93 282.00,1064.93 282.72,1064.93 283.44,1064.93 284.17,1064.93 284.89,1064.92 285.61,1064.92 286.33,1064.92 287.06,1064.92 287.78,1064.92 288.50,1064.91 289.22,1064.91 289.94,1064.91 290.67,1064.90 291.39,1064.90 292.11,1064.90 292.83,1064.89 293.56,1064.89 294.28,1064.88 295.00,1064.87 295.72,1064.86 296.45,1064.85 297.17,1064.84 297.89,1064.83 298.61,1064.82 299.33,1064.81 300.06,1064.79 300.78,1064.78 301.50,1064.76 302.22,1064.74 302.95,1064.71 303.67,1064.69 304.39,1064.66 305.11,1064.63 305.84,1064.59 306.56,1064.55 307.28,1064.51 308.00,1064.47 308.72,1064.42 309.45,1064.36 310.17,1064.30 310.89,1064.23 311.61,1064.16 312.34,1064.08 313.06,1063.99 313.78,1063.90 314.50,1063.79 315.23,1063.68 315.95,1063.55 316.67,1063.42 317.39,1063.27 318.11,1063.11 318.84,1062.94 319.56,1062.75 320.28,1062.55 321.00,1062.33 321.73,1062.10 322.45,1061.84 323.17,1061.57 323.89,1061.27 324.62,1060.95 325.34,1060.61 326.06,1060.24 326.78,1059.84 327.50,1059.42 328.23,1058.96 328.95,1058.48 329.67,1057.96 330.39,1057.40 331.12,1056.81 331.84,1056.18 332.56,1055.50 333.28,1054.78 334.01,1054.02 334.73,1053.21 335.45,1052.35 336.17,1051.44 336.89,1050.48 337.62,1049.45 338.34,1048.37 339.06,1047.23 339.78,1046.03 340.51,1044.76 341.23,1043.42 341.95,1042.02 342.67,1040.54 343.39,1038.98 344.12,1037.36 344.84,1035.65 345.56,1033.86 346.28,1031.99 347.01,1030.03 347.73,1027.99 348.45,1025.86 349.17,1023.64 349.90,1021.33 350.62,1018.92 351.34,1016.42 352.06,1013.82 352.78,1011.13 353.51,1008.34 354.23,1005.45 354.95,1002.46 355.67,999.37 356.40,996.18 357.12,992.89 357.84,989.50 358.56,986.01 359.29,982.42 360.01,978.73 360.73,974.95 361.45,971.06 362.17,967.09 362.90,963.01 363.62,958.85 364.34,954.59 365.06,950.25 365.79,945.82 366.51,941.30 367.23,936.71 367.95,932.04 368.68,927.29 369.40,922.47 370.12,917.59 370.84,912.64 371.56,907.63 372.29,902.57 373.01,897.45 373.73,892.29 374.45,887.08 375.18,881.84 375.90,876.57 376.62,871.26 377.34,865.93 378.07,860.59 378.79,855.23 379.51,849.86 380.23,844.49 380.95,839.12 381.68,833.76 382.40,828.41 383.12,823.07 383.84,817.76 384.57,812.48 385.29,807.22 386.01,802.01 386.73,796.83 387.46,791.70 388.18,786.62 388.90,781.60 389.62,776.63 390.34,771.72 391.07,766.89 391.79,762.12 392.51,757.42 393.23,752.81 393.96,748.27 394.68,743.81 395.40,739.44 396.12,735.16 396.85,730.97 397.57,726.86 398.29,722.86 399.01,718.94 399.73,715.13 400.46,711.41 401.18,707.79 401.90,704.27 402.62,700.85 403.35,697.53 404.07,694.31 404.79,691.19 405.51,688.17 406.24,685.25 406.96,682.43 407.68,679.71 408.40,677.09 409.12,674.56 409.85,672.12 410.57,669.78 411.29,667.53 412.01,665.38 412.74,663.31 413.46,661.33 414.18,659.43 414.90,657.62 415.63,655.88 416.35,654.23 417.07,652.66 417.79,651.16 418.51,649.73 419.24,648.37 419.96,647.08 420.68,645.86 421.40,644.70 422.13,643.60 422.85,642.56 423.57,641.58 424.29,640.65 425.02,639.78 425.74,638.95 426.46,638.18 427.18,637.44 427.90,636.76 428.63,636.11 429.35,635.51 430.07,634.94 430.79,634.41 431.52,633.91 432.24,633.45 432.96,633.02 433.68,632.61 434.41,632.24 435.13,631.88 435.85,631.56 436.57,631.26 437.29,630.97 438.02,630.71 438.74,630.47 439.46,630.25 440.18,630.04 440.91,629.85 441.63,629.67 442.35,629.51 443.07,629.36 443.80,629.22 444.52,629.09 445.24,628.98 445.96,628.87 446.68,628.77 447.41,628.68 448.13,628.60 448.85,628.52 449.57,628.46 450.30,628.39 451.02,628.34 451.74,628.28 452.46,628.24 453.19,628.19 453.91,628.15 454.63,628.12 455.35,628.09 456.07,628.06 456.80,628.03 457.52,628.01 458.24,627.98 458.96,627.97 459.69,627.95 460.41,627.93 461.13,627.92 461.85,627.91 462.58,627.89 463.30,627.88 464.02,627.87 464.74,627.87 465.46,627.86 466.19,627.85 466.91,627.85 467.63,627.84 468.35,627.84 469.08,627.83 469.80,627.83 470.52,627.82 471.24,627.82 471.97,627.82 472.69,627.82 473.41,627.81 474.13,627.81 474.85,627.81 475.58,627.81 476.30,627.81 477.02,627.81 477.74,627.81 478.47,627.81 479.19,627.81 479.91,627.80 480.63,627.80 481.36,627.80 482.08,627.80 482.80,627.80" fill="none" stroke="#000000" stroke-width="1.8" stroke-linejoin="round"/>
<path d="M194.60,1059.40l4.6,4.6l-4.6,4.6l-4.6,-4.6z" fill="#0000ff"/>
<path d="M194.60,1060.60l4.6,4.6l-4.6,4.6l-4.6,-4.6z" fill="#000000"/>
<path d="M194.60,1071.80l4.6,4.6l-4.6,4.6l-4.6,-4.6z" fill="#000000"/>
<path d="M194.60,1078.60l4.6,4.6l-4.6,4.6l-4.6,-4.6z" fill="#000000"/>
<path d="M266.60,1079.40l4.6,4.6l-4.6,4.6l-4.6,-4.6z" fill="#0000ff"/>
<path d="M266.60,1074.80l4.6,4.6l-4.6,4.6l-4.6,-4.6z" fill="#ff0000"/>
<path d="M266.60,1052.70l4.6,4.6l-4.6,4.6l-4.6,-4.6z" fill="#ff0000"/>
<path d="M266.60,1027.60l4.6,4.6l-4.6,4.6l-4.6,-4.6z" fill="#ff0000"/>
<path d="M266.60,1068.90l4.6,4.6l-4.6,4.6l-4.6,-4.6z" fill="#000000"/>
<path d="M266.60,1051.60l4.6,4.6l-4.6,4.6l-4.6,-4.6z" fill="#000000"/>
<path d="M266.60,1038.50l4.6,4.6l-4.6,4.6l-4.6,-4.6z" fill="#000000"/>
<path d="M338.50,803.30l4.6,4.6l-4.6,4.6l-4.6,-4.6z" fill="#0000ff"/>
<path d="M338.50,837.30l4.6,4.6l-4.6,4.6l-4.6,-4.6z" fill="#0000ff"/>
<path d="M338.50,906.60l4.6,4.6l-4.6,4.6l-4.6,-4.6z" fill="#0000ff"/>
<path d="M338.60,1068.90l4.6,4.6l-4.6,4.6l-4.6,-4.6z" fill="#ff0000"/>
<path d="M338.60,1084.70l4.6,4.6l-4.6,4.6l-4.6,-4.6z" fill="#ff0000"/>
<path d="M338.60,1041.40l4.6,4.6l-4.6,4.6l-4.6,-4.6z" fill="#000000"/>
<path d="M338.60,1044.70l4.6,4.6l-4.6,4.6l-4.6,-4.6z" fill="#000000"/>
<path d="M410.40,889.50l4.6,4.6l-4.6,4.6l-4.6,-4.6z" fill="#ff0000"/>
<path d="M410.40,901.20l4.6,4.6l-4.6,4.6l-4.6,-4.6z" fill="#ff0000"/>
<path d="M410.40,971.90l4.6,4.6l-4.6,4.6l-4.6,-4.6z" fill="#ff0000"/>
<path d="M410.90,645.90l4.6,4.6l-4.6,4.6l-4.6,-4.6z" fill="#000000"/>
<path d="M410.90,665.00l4.6,4.6l-4.6,4.6l-4.6,-4.6z" fill="#000000"/>
<path d="M410.90,680.60l4.6,4.6l-4.6,4.6l-4.6,-4.6z" fill="#000000"/>
<path d="M410.90,623.00l4.6,4.6l-4.6,4.6l-4.6,-4.6z" fill="#0000ff"/>
<path d="M410.90,629.60l4.6,4.6l-4.6,4.6l-4.6,-4.6z" fill="#0000ff"/>
<path d="M482.80,623.70l4.6,4.6l-4.6,4.6l-4.6,-4.6z" fill="#000000"/>
<path d="M554.40,623.70l4.6,4.6l-4.6,4.6l-4.6,-4.6z" fill="#000000"/>
<path d="M626.60,623.70l4.6,4.6l-4.6,4.6l-4.6,-4.6z" fill="#000000"/>
<text transform="translate(42.6,1094.80) scale(1,1.1)" text-anchor="end" class="tl yl">0</text>
<text transform="translate(42.6,1048.64) scale(1,1.1)" text-anchor="end" class="tl yl">10</text>
<text transform="translate(42.6,1002.48) scale(1,1.1)" text-anchor="end" class="tl yl">20</text>
<text transform="translate(42.6,956.32) scale(1,1.1)" text-anchor="end" class="tl yl">30</text>
<text transform="translate(42.6,910.16) scale(1,1.1)" text-anchor="end" class="tl yl">40</text>
<text transform="translate(42.6,864.00) scale(1,1.1)" text-anchor="end" class="tl yl">50</text>
<text transform="translate(42.6,817.84) scale(1,1.1)" text-anchor="end" class="tl yl">60</text>
<text transform="translate(42.6,771.68) scale(1,1.1)" text-anchor="end" class="tl yl">70</text>
<text transform="translate(42.6,725.52) scale(1,1.1)" text-anchor="end" class="tl yl">80</text>
<text transform="translate(42.6,679.36) scale(1,1.1)" text-anchor="end" class="tl yl">90</text>
<text transform="translate(42.6,633.20) scale(1,1.1)" text-anchor="end" class="tl yl">100</text>
<text transform="translate(49.00,1117.60) scale(1,1.1)" text-anchor="middle" class="tl">0</text>
<text transform="translate(523.30,1117.60) scale(1,1.1)" text-anchor="middle" class="tl">400</text>
<text transform="translate(580.00,1117.60) scale(1,1.1)" text-anchor="middle" class="tl">1400</text>
<text transform="translate(627.00,1117.60) scale(1,1.1)" text-anchor="middle" class="tl">4000</text>
<text x="249.8" y="1133.90" class="al" xml:space="preserve">DOSE  (logarithmic scale)</text>
<text transform="translate(12.4,944.80) rotate(-90)" class="al pr">PERCENT</text>
<text transform="translate(12.4,860.60) rotate(-90)" class="al pr">RESPONSE</text>
<text x="90.6" y="665.1" class="lt">B</text>
</svg>
</body></html>
